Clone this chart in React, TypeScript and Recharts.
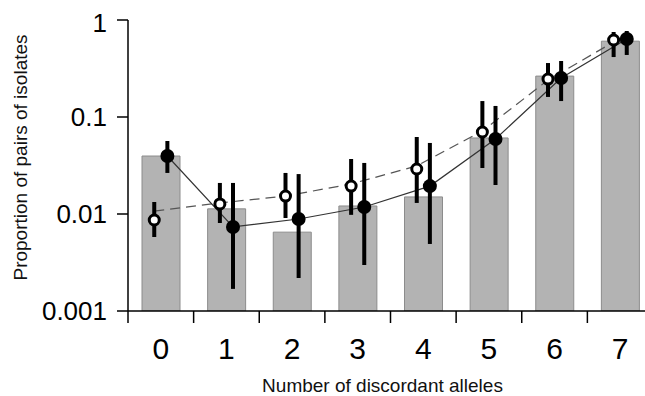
import React from 'react';
import { ComposedChart, Bar, Line, XAxis, YAxis, ErrorBar, Label } from 'recharts';

const categories = ['0', '1', '2', '3', '4', '5', '6', '7'];
const barValues = [0.0396, 0.0113, 0.0065, 0.0121, 0.015, 0.0608, 0.264, 0.605];
const openValues = [0.00867, 0.0127, 0.0153, 0.0194, 0.0291, 0.07, 0.246, 0.622];
const openLow = [0.00579, 0.00808, 0.0091, 0.0098, 0.013, 0.0298, 0.161, 0.415];
const openHigh = [0.0133, 0.0209, 0.0265, 0.0369, 0.0622, 0.146, 0.36, 0.752];
const filledValues = [0.0396, 0.00735, 0.00888, 0.0118, 0.0194, 0.0593, 0.252, 0.637];
const filledLow = [0.0265, 0.00169, 0.00219, 0.00298, 0.00491, 0.0199, 0.146, 0.436];
const filledHigh = [0.0566, 0.0209, 0.0258, 0.0336, 0.054, 0.13, 0.378, 0.77];
const modelValues = [0.0107, 0.013, 0.0153, 0.0204, 0.0313, 0.0717, 0.2406, 0.593];
const yTicks = [0.001, 0.01, 0.1, 1];
const xTitle = 'Number of discordant alleles';
const yTitle = 'Proportion of pairs of isolates';
const pointShift = 0.1;

const FONT = '"Liberation Sans", Arial, Helvetica, sans-serif';

const barData = categories.map((c, i) => ({ cat: c, bar: barValues[i] }));
const openData = categories.map((c, i) => ({
  x: i - pointShift,
  y: openValues[i],
  err: [openValues[i] - openLow[i], openHigh[i] - openValues[i]],
}));
const filledData = categories.map((c, i) => ({
  x: i + pointShift,
  y: filledValues[i],
  err: [filledValues[i] - filledLow[i], filledHigh[i] - filledValues[i]],
}));
const modelData = categories.map((c, i) => ({ x: i - pointShift, y: modelValues[i] }));

const XTick = (props: any) => {
  const { x, y, payload } = props;
  const half = payload && payload.offset != null ? payload.offset : 0;
  return (
    <g>
      <line x1={x - half} x2={x - half} y1={y - 26} y2={y - 14} stroke="#000" strokeWidth={1.5} />
      <text x={x} y={y} dy="0.72em" textAnchor="middle" fontSize={30} fontFamily={FONT} fill="#000">
        {payload.value}
      </text>
    </g>
  );
};

const OpenDot = (props: any) => {
  const { cx, cy, index } = props;
  if (cx == null || cy == null) return <g key={`o${index}`} />;
  return <circle key={`o${index}`} cx={cx} cy={cy} r={5} fill="#fff" stroke="#000" strokeWidth={3} />;
};

const FilledDot = (props: any) => {
  const { cx, cy, index } = props;
  if (cx == null || cy == null) return <g key={`f${index}`} />;
  return <circle key={`f${index}`} cx={cx} cy={cy} r={7} fill="#000" stroke="none" />;
};

const YTitle = (p: any) => {
  const vb = p.viewBox || { x: 0, y: 0, width: 0, height: 0 };
  const cx = vb.x + 19;
  const cy = vb.y + vb.height / 2 - 8;
  return (
    <text x={cx} y={cy} transform={`rotate(-90 ${cx} ${cy})`} textAnchor="middle" fontSize={19} fontFamily={FONT} fill="#111">
      {yTitle}
    </text>
  );
};

const XTitle = (p: any) => {
  const vb = p.viewBox || { x: 0, y: 0, width: 0, height: 0 };
  const cx = vb.x + vb.width / 2 - 8;
  const cy = vb.y + 81;
  return (
    <text x={cx} y={cy} textAnchor="middle" fontSize={19} fontFamily={FONT} fill="#111">
      {xTitle}
    </text>
  );
};

export default function App() {
  return (
    <div style={{ position: 'absolute', left: 8, top: 8, width: 637, height: 388, overflow: 'hidden' }}>
      <ComposedChart
        width={645}
        height={388}
        data={barData}
        margin={{ top: 12, right: 0, bottom: 0, left: 0 }}
        style={{ fontFamily: FONT }}
      >
        <XAxis
          xAxisId="cat"
          dataKey="cat"
          type="category"
          height={85}
          interval={0}
          tickLine={false}
          tickSize={12}
          tickMargin={14}
          axisLine={{ stroke: '#000', strokeWidth: 1.5 }}
          tick={<XTick />}
        >
          <Label content={<XTitle />} />
        </XAxis>
        <XAxis xAxisId="num" dataKey="x" type="number" domain={[-0.5, 7.5]} hide allowDataOverflow />
        <YAxis
          scale="log"
          type="number"
          domain={[0.001, 1]}
          ticks={yTicks}
          allowDataOverflow
          width={120}
          tickSize={11}
          tickMargin={10}
          tickFormatter={(v: number) => String(v)}
          tick={{ fontSize: 26, fill: '#000', fontFamily: FONT }}
          tickLine={{ stroke: '#000', strokeWidth: 1.5 }}
          axisLine={{ stroke: '#000', strokeWidth: 1.5 }}
        >
          <Label content={<YTitle />} />
        </YAxis>
        <Bar
          xAxisId="cat"
          dataKey="bar"
          barSize={38}
          fill="#b3b3b3"
          stroke="#8c8c8c"
          strokeWidth={1}
          isAnimationActive={false}
        />
        <Line
          xAxisId="num"
          data={modelData}
          dataKey="y"
          type="linear"
          stroke="#555"
          strokeWidth={1.2}
          strokeDasharray="10 6"
          dot={false}
          activeDot={false}
          isAnimationActive={false}
        />
        <Line
          xAxisId="num"
          data={filledData}
          dataKey="y"
          type="linear"
          stroke="#333"
          strokeWidth={1.2}
          dot={false}
          activeDot={false}
          isAnimationActive={false}
        />
        <Line
          xAxisId="num"
          data={openData}
          dataKey="y"
          stroke="none"
          dot={<OpenDot />}
          activeDot={false}
          isAnimationActive={false}
        >
          <ErrorBar dataKey="err" direction="y" width={0} stroke="#000" strokeWidth={4} />
        </Line>
        <Line
          xAxisId="num"
          data={filledData}
          dataKey="y"
          stroke="none"
          dot={<FilledDot />}
          activeDot={false}
          isAnimationActive={false}
        >
          <ErrorBar dataKey="err" direction="y" width={0} stroke="#000" strokeWidth={4} />
        </Line>
      </ComposedChart>
    </div>
  );
}
